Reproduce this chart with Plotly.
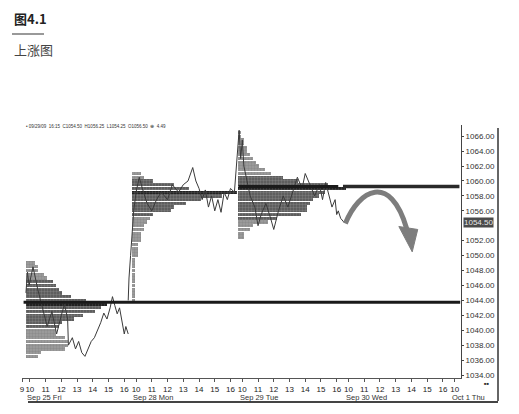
import plotly.graph_objects as go

# ---------------- data ----------------
DAY_LEN = 6.75   # session length in hours (9:30 - 16:15)
day_names = ["Sep 25 Fri", "Sep 28 Mon", "Sep 29 Tue", "Sep 30 Wed", "Oct 1 Thu"]

# price path (clock hour, price) per session
sep25_t = [9.75, 9.85, 9.95, 10.2, 10.5, 10.8, 11.1, 11.4, 11.7, 12.0, 12.2, 12.4, 12.45, 12.7, 12.9, 13.1, 13.3,
           13.5, 13.7, 13.9, 14.1, 14.3, 14.5, 14.7, 14.9, 15.1, 15.25, 15.4, 15.55, 15.7, 15.85, 16.0, 16.1, 16.25]
sep25_p = [1045, 1047.8, 1046, 1048.5, 1045.5, 1043, 1040.5, 1042.5, 1039.5, 1042, 1043.5, 1041.5, 1038, 1039,
           1037.5, 1038.5, 1037, 1036.5, 1037.5, 1038.5, 1039, 1040, 1041, 1042.3, 1041.5, 1043, 1044.5, 1043.3,
           1042.2, 1043, 1041, 1039.5, 1040.5, 1039.5]
sep28_t = [9.5, 9.55, 9.65, 9.75, 9.85, 10.0, 10.2, 10.4, 10.7, 11.0, 11.3, 11.6, 12.0, 12.3, 12.7, 13.0, 13.3,
           13.6, 13.8, 14.0, 14.2, 14.4, 14.6, 14.8, 15.0, 15.2, 15.4, 15.6, 15.8, 16.0, 16.25]
sep28_p = [1044, 1047, 1050, 1053, 1056, 1058.5, 1060.5, 1059, 1057, 1056, 1057.5, 1058.5, 1057.5, 1059.5, 1058.5,
           1059.5, 1060, 1061.8, 1060, 1059, 1057.5, 1058.8, 1056.5, 1058, 1056, 1057.5, 1055.8, 1058.5, 1057.5,
           1059, 1058.5]
sep29_t = [9.5, 9.6, 9.7, 9.8, 9.9, 10.0, 10.1, 10.3, 10.5, 10.8, 11.0, 11.2, 11.5, 11.8, 12.0, 12.3, 12.6, 12.9,
           13.2, 13.5, 13.8, 14.0, 14.3, 14.6, 14.9, 15.1, 15.3, 15.5, 15.7, 15.9, 16.0, 16.1, 16.25, 16.45]
sep29_p = [1058.5, 1061, 1064, 1066.8, 1063, 1065.5, 1062, 1060, 1058, 1056.5, 1054, 1055.5, 1057, 1055, 1053.5,
           1056, 1058, 1056.5, 1058.5, 1060.5, 1059, 1061, 1059.5, 1058, 1059.5, 1057.5, 1059.8, 1058, 1056.5,
           1057.5, 1055.5, 1056, 1055, 1054.5]

# market profile rows: price level -> TPO count
sep25_levels = [1049, 1048.5, 1048, 1047.5, 1047, 1046.5, 1046, 1045.5, 1045, 1044.5, 1044, 1043.5, 1043, 1042.5,
                1042, 1041.5, 1041, 1040.5, 1040, 1039.5, 1039, 1038.5, 1038, 1037.5, 1037, 1036.5]
sep25_tpo = [3, 4, 4, 6, 7, 9, 10, 11, 12, 15, 20, 27, 25, 23, 19, 16, 12, 11, 10, 10, 13, 14, 14, 13, 5, 4]
sep28_levels = [1061, 1060.5, 1060, 1059.5, 1059, 1058.5, 1058, 1057.5, 1057, 1056.5, 1056, 1055.5, 1055, 1054.5,
                1054, 1053.5, 1053, 1052.5, 1052, 1051.5, 1051, 1050.5, 1050, 1049.5, 1049, 1048.5, 1048, 1047.5,
                1047, 1046.5, 1046, 1045.5, 1045, 1044.5, 1044]
sep28_tpo = [3, 4, 7, 14, 19, 35, 30, 23, 18, 14, 13, 7, 6, 5, 4, 4, 3, 3, 3, 2, 2, 2, 2, 1, 1, 1, 1, 1, 1, 1, 1, 1,
             1, 1, 1]
sep29_levels = [1066.5, 1066, 1065.5, 1065, 1064.5, 1064, 1063.5, 1063, 1062.5, 1062, 1061.5, 1061, 1060.5, 1060,
                1059.5, 1059, 1058.5, 1058, 1057.5, 1057, 1056.5, 1056, 1055.5, 1055, 1054.5, 1054, 1053.5, 1053,
                1052.5]
sep29_tpo = [1, 1, 2, 2, 3, 3, 4, 5, 6, 7, 9, 11, 15, 20, 30, 36, 29, 27, 25, 24, 23, 23, 21, 13, 10, 5, 4, 2, 2]

value_areas = [(1040.5, 1046.5), (1055.5, 1060), (1055, 1060.5)]
poc_prices = [1043.5, 1058.5, 1059]
support_level = 1043.75
resistance_level = 1059.25
last_price = 1054.50
y_ticks = [1034, 1036, 1038, 1040, 1042, 1044, 1046, 1048, 1050, 1052, 1056, 1058, 1060, 1062, 1064, 1066]
header = "• 09/29/09  16:15  C1054.50  H1056.25  L1054.25  O1056.50  ⊕  4.49"

# ---------------- layout helpers ----------------
# the page body adds an 8px offset, so the figure is drawn 8px smaller and
# reference pixel positions are shifted by OFF
OFF = 8
W, H = 519 - OFF, 414 - OFF
L, R, T, B = 22 - OFF, 58, 125 - OFF, 36
PW, PH = W - L - R, H - T - B
XMAX = 27.9
TPO_W = 0.19  # width of one TPO block in hours


def xpos(day, t):
    return day * DAY_LEN + (t - 9.5)


def px(xp):
    return (xp - OFF - L) / PW


def py(yp):
    return (H - B - (yp - OFF)) / PH


fig = go.Figure()

# price path (beneath the profiles)
for day, ts, ps in [(0, sep25_t, sep25_p), (1, sep28_t, sep28_p), (2, sep29_t, sep29_p)]:
    fig.add_trace(go.Scatter(x=[xpos(day, t) for t in ts], y=ps, mode="lines",
                             line=dict(color="#3a3a3a", width=1), showlegend=False, hoverinfo="skip"))

# profiles
profiles = [(0, sep25_levels, sep25_tpo), (1, sep28_levels, sep28_tpo), (2, sep29_levels, sep29_tpo)]
for i, (day, levels, tpo) in enumerate(profiles):
    lo, hi = value_areas[i]
    cols = []
    for lv in levels:
        if lv == poc_prices[i]:
            cols.append("#222222")
        elif lo <= lv <= hi:
            cols.append("#5e5e5e")
        else:
            cols.append("#9a9a9a")
    fig.add_trace(go.Bar(
        orientation="h", y=levels, x=[c * TPO_W for c in tpo], base=day * DAY_LEN + 0.25,
        width=0.44, marker=dict(color=cols, line=dict(width=0),
                                pattern=dict(shape="+", fgcolor="white", size=3, solidity=0.12,
                                             fillmode="overlay")),
        showlegend=False, hoverinfo="skip"))

# key levels
fig.add_trace(go.Scatter(x=[0.1, XMAX - 0.05], y=[support_level, support_level], mode="lines",
                         line=dict(color="#1a1a1a", width=3), showlegend=False, hoverinfo="skip"))
fig.add_trace(go.Scatter(x=[2 * DAY_LEN + 0.25, 20.1], y=[resistance_level] * 2, mode="lines",
                         line=dict(color="#1a1a1a", width=3), showlegend=False, hoverinfo="skip"))
fig.add_trace(go.Scatter(x=[20.4, XMAX - 0.1], y=[resistance_level] * 2, mode="lines",
                         line=dict(color="#2a2a2a", width=3.5), showlegend=False, hoverinfo="skip"))

# x ticks
tickvals, ticktext = [], []
for d in range(5):
    hours = [9.5, 10, 11, 12, 13, 14, 15, 16] if d == 0 else [10, 11, 12, 13, 14, 15, 16]
    if d == 4:
        hours = [10]
    for h in hours:
        tickvals.append(xpos(d, h))
        ticktext.append("9" if h == 9.5 else str(int(h)))

annotations = []
for d, name in enumerate(day_names):
    annotations.append(dict(x=d * DAY_LEN + 0.2, y=py(397), xref="x", yref="paper", text=name,
                            showarrow=False, xanchor="left", yanchor="middle",
                            font=dict(size=7.5, color="#333", family="Arial, Liberation Sans")))

annotations += [
    dict(x=px(12), y=py(18), xref="paper", yref="paper", text="<b>图4.1</b>", showarrow=False, xanchor="left",
         yanchor="middle", font=dict(size=13, color="#222", family="Noto Sans CJK SC")),
    dict(x=px(12), y=py(50), xref="paper", yref="paper", text="上涨图", showarrow=False, xanchor="left",
         yanchor="middle", font=dict(size=13, color="#444", family="Noto Sans CJK SC")),
    dict(x=px(24), y=py(126), xref="paper", yref="paper", text=header, showarrow=False, xanchor="left",
         yanchor="middle", font=dict(size=4.5, color="#333", family="Arial, Liberation Sans")),
    dict(x=1.0, y=last_price, xref="paper", yref="y", text="1054.50", showarrow=False, xanchor="left",
         xshift=2, yanchor="middle", bgcolor="#4a4a4a", borderpad=0,
         font=dict(size=8, color="#e8e8e8", family="Arial, Liberation Sans")),
    dict(x=px(491), y=py(388), xref="paper", yref="paper", text="■■", showarrow=False,
         font=dict(size=4, color="#333")),
]

shapes = [
    dict(type="line", xref="paper", yref="paper", x0=px(12), x1=px(44), y0=py(34), y1=py(34),
         line=dict(color="#999", width=2)),
    dict(type="line", xref="paper", yref="paper", x0=px(498), x1=px(498), y0=py(128), y1=py(401),
         line=dict(color="#333", width=1.5)),
    dict(type="line", xref="paper", yref="paper", x0=px(28), x1=px(498), y0=py(402), y1=py(402),
         line=dict(color="#444", width=2)),
    # forecast arrow
    dict(type="path", xref="x", yref="y",
         path="M 20.55,1054.3 C 21.4,1058.8 23.4,1061.2 24.45,1053.6",
         line=dict(color="#7d7d7d", width=5)),
    dict(type="path", xref="x", yref="y",
         path="M 23.95,1053.9 L 25.15,1053.5 L 24.8,1050.5 Z",
         fillcolor="#7d7d7d", line=dict(color="#7d7d7d", width=1)),
]

fig.update_layout(
    width=W, height=H, margin=dict(l=L, r=R, t=T, b=B),
    paper_bgcolor="white", plot_bgcolor="white", barmode="overlay", bargap=0,
    annotations=annotations, shapes=shapes,
    xaxis=dict(range=[0, XMAX], tickvals=tickvals, ticktext=ticktext, showgrid=False, zeroline=False,
               showline=True, linecolor="#555", linewidth=1, ticks="outside", ticklen=3, tickcolor="#555",
               tickangle=0, automargin=False,
               tickfont=dict(size=8, color="#222", family="Arial, Liberation Sans")),
    yaxis=dict(range=[1033.6, 1067.5], side="right", tickvals=y_ticks, automargin=False,
               ticktext=["%.2f" % v for v in y_ticks], showgrid=False, zeroline=False,
               showline=True, linecolor="#444", linewidth=1, ticks="outside", ticklen=2, tickcolor="#444",
               tickfont=dict(size=8, color="#333", family="Arial, Liberation Sans")),
)

fig.write_html("out.html")
